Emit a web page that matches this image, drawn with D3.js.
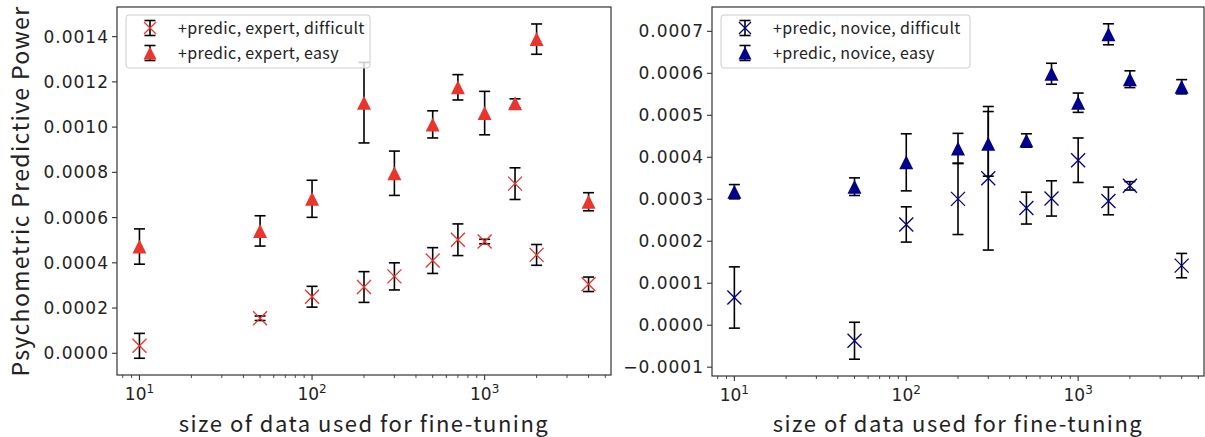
<!DOCTYPE html>
<html>
<head>
<meta charset="utf-8">
<script src="https://cdn.jsdelivr.net/npm/d3@7"></script>
<style>
  body { margin: 0; background: #fff; }
  svg { display: block; }
</style>
</head>
<body>
<div id="chart"></div>
<script>
// data
const sizes = [10, 50, 100, 200, 300, 500, 700, 1000, 1500, 2000, 4000]

const expertDiffMean = [0.000033, 0.000155, 0.000250, 0.000293, 0.000340, 0.000410, 0.000502, 0.000494, 0.000750, 0.000435, 0.000305]
const expertDiffErr  = [0.000055, 0.000010, 0.000046, 0.000068, 0.000060, 0.000057, 0.000070, 0.000010, 0.000070, 0.000046, 0.000032]
const expertEasyMean = [0.000472, 0.000541, 0.000683, 0.001108, 0.000796, 0.001012, 0.001176, 0.001062, 0.001105, 0.001389, 0.000670]
const expertEasyErr  = [0.000078, 0.000067, 0.000082, 0.000178, 0.000098, 0.000060, 0.000056, 0.000096, 0.000020, 0.000067, 0.000040]

const noviceDiffMean = [0.000066, -0.000037, 0.000240, 0.000301, 0.000350, 0.000279, 0.000302, 0.000393, 0.000296, 0.000332, 0.000142]
const noviceDiffErr  = [0.000073, 0.000044, 0.000042, 0.000085, 0.000171, 0.000038, 0.000042, 0.000053, 0.000033, 0.000010, 0.000029]
const noviceEasyMean = [0.000318, 0.000330, 0.000388, 0.000421, 0.000432, 0.000440, 0.000599, 0.000530, 0.000693, 0.000586, 0.000568]
const noviceEasyErr  = [0.000017, 0.000021, 0.000068, 0.000036, 0.000077, 0.000016, 0.000025, 0.000023, 0.000025, 0.000020, 0.000017]

const leftYTicks = [0, 0.0002, 0.0004, 0.0006, 0.0008, 0.0010, 0.0012, 0.0014]
const rightYTicks = [-0.0001, 0, 0.0001, 0.0002, 0.0003, 0.0004, 0.0005, 0.0006, 0.0007]
const xMajorTicks = [10, 100, 1000]
const xMinorTicks = [8, 9, 20, 30, 40, 50, 60, 70, 80, 90, 200, 300, 400, 500, 600, 700, 800, 900, 2000, 3000, 4000, 5000]

const leftLabels = ["+predic, expert, difficult", "+predic, expert, easy"]
const rightLabels = ["+predic, novice, difficult", "+predic, novice, easy"]

const width = 1205
const height = 437
const tickFont = "DejaVu Sans"
const labelFont = "'Noto Sans CJK JP', 'Noto Sans', sans-serif"

const svg = d3.select("#chart").append("svg")
    .attr("width", width)
    .attr("height", height)

const xDomain = [Math.pow(10, 0.8699), Math.pow(10, 3.7321)]

function trianglePath(cx, cy, s) {
    let h = s / 2
    return `M${cx},${cy - h}L${cx + h},${cy + h}L${cx - h},${cy + h}Z`
}

function drawX(g, cx, cy, s, color) {
    let h = s / 2
    g.append("path")
        .attr("d", `M${cx - h},${cy - h}L${cx + h},${cy + h}M${cx - h},${cy + h}L${cx + h},${cy - h}`)
        .attr("stroke", color)
        .attr("stroke-width", 1.3)
        .attr("fill", "none")
}

function drawErrBar(g, cx, yTop, yBot) {
    g.append("line")
        .attr("x1", cx).attr("x2", cx)
        .attr("y1", yTop).attr("y2", yBot)
        .attr("stroke", "black").attr("stroke-width", 1.6)
    ;[yTop, yBot].forEach(yy => {
        g.append("line")
            .attr("x1", cx - 5.5).attr("x2", cx + 5.5)
            .attr("y1", yy).attr("y2", yy)
            .attr("stroke", "black").attr("stroke-width", 1.6)
    })
}

function drawPanel(p) {
    const g = svg.append("g")

    const x = d3.scaleLog().domain(xDomain).range([p.left, p.right])
    const y = d3.scaleLinear().domain(p.yDomain).range([p.bottom, p.top])

    // difficult series first (x markers)
    const diff = g.append("g")
    sizes.forEach((s, i) => {
        drawErrBar(diff, x(s), y(p.diffMean[i] + p.diffErr[i]), y(p.diffMean[i] - p.diffErr[i]))
        drawX(diff, x(s), y(p.diffMean[i]), 14, p.color)
    })

    // easy series (triangles)
    const easy = g.append("g")
    sizes.forEach((s, i) => {
        drawErrBar(easy, x(s), y(p.easyMean[i] + p.easyErr[i]), y(p.easyMean[i] - p.easyErr[i]))
        easy.append("path")
            .attr("d", trianglePath(x(s), y(p.easyMean[i]), 14))
            .attr("fill", p.color)
    })

    // frame
    g.append("rect")
        .attr("x", p.left).attr("y", p.top)
        .attr("width", p.right - p.left).attr("height", p.bottom - p.top)
        .attr("fill", "none").attr("stroke", "#333").attr("stroke-width", 1.2)

    // y axis
    const yAxis = g.append("g")
    p.yTicks.forEach(t => {
        let yy = y(t)
        yAxis.append("line")
            .attr("x1", p.left - 5).attr("x2", p.left)
            .attr("y1", yy).attr("y2", yy)
            .attr("stroke", "#333").attr("stroke-width", 1.1)
        yAxis.append("text")
            .attr("x", p.left - 8).attr("y", yy)
            .attr("dy", "0.36em")
            .attr("text-anchor", "end")
            .attr("font-family", tickFont)
            .attr("font-size", 17)
            .attr("letter-spacing", 1)
            .attr("fill", "#222")
            .text(d3.format(".4f")(t))
    })

    // x axis
    const xAxis = g.append("g")
    xMinorTicks.filter(t => t >= xDomain[0] && t <= xDomain[1]).forEach(t => {
        xAxis.append("line")
            .attr("x1", x(t)).attr("x2", x(t))
            .attr("y1", p.bottom).attr("y2", p.bottom + 3)
            .attr("stroke", "#333").attr("stroke-width", 0.9)
    })
    xMajorTicks.forEach(t => {
        let xx = x(t)
        xAxis.append("line")
            .attr("x1", xx).attr("x2", xx)
            .attr("y1", p.bottom).attr("y2", p.bottom + 5)
            .attr("stroke", "#333").attr("stroke-width", 1.1)
        let lbl = xAxis.append("text")
            .attr("x", xx).attr("y", p.bottom + 25)
            .attr("text-anchor", "middle")
            .attr("font-family", tickFont)
            .attr("font-size", 17)
            .attr("fill", "#222")
        lbl.append("tspan").text("10")
        lbl.append("tspan")
            .attr("font-size", 12)
            .attr("dy", -7)
            .text(Math.round(Math.log10(t)))
    })

    g.append("text")
        .attr("x", (p.left + p.right) / 2)
        .attr("y", 432)
        .attr("text-anchor", "middle")
        .attr("font-family", labelFont)
        .attr("font-size", 22)
        .attr("letter-spacing", 1.5)
        .attr("fill", "#222")
        .text("size of data used for fine-tuning")

    // legend
    const lg = g.append("g").attr("transform", `translate(${p.left + 9},15)`)
    lg.append("rect")
        .attr("width", p.legendW).attr("height", 53)
        .attr("rx", 3)
        .attr("fill", "white").attr("fill-opacity", 0.8)
        .attr("stroke", "#ccc").attr("stroke-width", 1)
    const hx = 24
    drawErrBar(lg, hx, 13 - 7.5, 13 + 7.5)
    drawX(lg, hx, 13, 12, p.color)
    drawErrBar(lg, hx, 38 - 7.5, 38 + 7.5)
    lg.append("path").attr("d", trianglePath(hx, 38, 13)).attr("fill", p.color)
    p.labels.forEach((t, i) => {
        lg.append("text")
            .attr("x", 52).attr("y", 13 + i * 25)
            .attr("dy", "0.36em")
            .attr("font-family", labelFont)
            .attr("font-size", 16)
            .attr("letter-spacing", 0.35)
            .attr("fill", "#222")
            .text(t)
    })
}

drawPanel({
    left: 117, right: 611, top: 7, bottom: 375,
    yDomain: [-0.000096, 0.001531],
    yTicks: leftYTicks,
    diffMean: expertDiffMean, diffErr: expertDiffErr,
    easyMean: expertEasyMean, easyErr: expertEasyErr,
    color: "#e9352b",
    labels: leftLabels,
    legendW: 244
})

drawPanel({
    left: 712, right: 1204, top: 7, bottom: 376,
    yDomain: [-0.000121, 0.000758],
    yTicks: rightYTicks,
    diffMean: noviceDiffMean, diffErr: noviceDiffErr,
    easyMean: noviceEasyMean, easyErr: noviceEasyErr,
    color: "#00008b",
    labels: rightLabels,
    legendW: 249
})

// shared y label
svg.append("text")
    .attr("transform", "translate(29,191) rotate(-90)")
    .attr("text-anchor", "middle")
    .attr("font-family", labelFont)
    .attr("font-size", 23)
    .attr("letter-spacing", 1.35)
    .attr("fill", "#222")
    .text("Psychometric Predictive Power")
</script>
</body>
</html>
